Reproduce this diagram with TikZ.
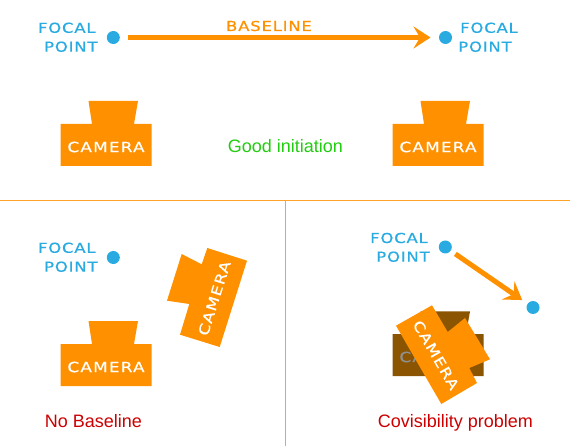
\documentclass[tikz,border=0pt]{standalone}
\usepackage{fontspec}
\usetikzlibrary{arrows.meta}
\setmainfont{Liberation Sans}
\newfontfamily\pixfont[FakeStretch=1.2,LetterSpace=6,FakeBold=0.6]{DejaVu Sans}
\newfontfamily\camfont[FakeStretch=1.2,LetterSpace=9,FakeBold=0.6]{DejaVu Sans}
\definecolor{camorange}{HTML}{FF9100}
\definecolor{dotblue}{HTML}{29ABE2}
\definecolor{goodgreen}{HTML}{22CC11}
\definecolor{badred}{HTML}{CC0000}
\definecolor{shadowbrown}{HTML}{8B5400}
\definecolor{shadowtext}{HTML}{909090}
\tikzset{
  camshape/.style={fill=camorange,draw=none},
  shadowshape/.style={fill=shadowbrown,draw=none},
  fdot/.style={circle,fill=dotblue,draw=none,minimum size=13pt,inner sep=0pt},
  pixlabel/.style={text=dotblue,inner sep=0pt,font=\pixfont\fontsize{13.7pt}{14pt}\selectfont},
  baselabel/.style={text=camorange,inner sep=0pt,font=\pixfont\fontsize{13.7pt}{14pt}\selectfont},
  camlabel/.style={text=white,inner sep=0pt,font=\camfont\fontsize{14pt}{14pt}\selectfont},
  caption/.style={inner sep=0pt,font=\fontsize{18pt}{20pt}\selectfont},
  bigarrow/.style={draw=camorange,line width=5pt,-{Stealth[length=17pt,width=22pt,inset=6.5pt]}},
  divider/.style={draw=camorange!85,line width=0.8pt},
}
\begin{document}
\begin{tikzpicture}[x=1pt,y=-1pt]
\useasboundingbox (0,0) rectangle (570,446);
% dividers
\coordinate (hl) at (0,200.5);
\coordinate (hr) at (570,200.5);
\coordinate (vt) at (285.5,200.5);
\coordinate (vb) at (285.5,446);
\draw[divider] (hl) -- (hr);
\draw[divider] (vt) -- (vb);
% top panel
\node[fdot] (d1) at (113.3,37.5) {};
\node[fdot] (d2) at (445.5,37.5) {};
\node[pixlabel] (f1a) at (66.8,27.8) {FOCAL};
\node[pixlabel] (f1b) at (70.8,46.7) {POINT};
\node[pixlabel] (f2a) at (489,27.8) {FOCAL};
\node[pixlabel] (f2b) at (485,46.7) {POINT};
\node[baselabel] (bl) at (269,26) {BASELINE};
\draw[bigarrow,shorten <=7.7pt,shorten >=8.3pt] (d1) -- (d2);
% camera 1
\fill[camshape] (60.5,124) -- (92,124) -- (88.5,101) -- (138,101) -- (134,124) -- (151.5,124) -- (151.5,166) -- (60.5,166) -- cycle;
\node[camlabel] (c1) at (106,147) {CAMERA};
% camera 2
\fill[camshape] (392.5,124) -- (424,124) -- (420.5,101) -- (470,101) -- (466,124) -- (483.5,124) -- (483.5,166) -- (392.5,166) -- cycle;
\node[camlabel] (c2) at (438,147) {CAMERA};
\node[caption,text=goodgreen] (good) at (285.5,146.5) {Good initiation};
% lower left
\node[fdot] (d3) at (113.3,257.5) {};
\node[pixlabel] (f3a) at (66.8,247.8) {FOCAL};
\node[pixlabel] (f3b) at (70.8,266.7) {POINT};
\fill[camshape] (60.5,344) -- (92,344) -- (88.5,321) -- (138,321) -- (134,344) -- (151.5,344) -- (151.5,386) -- (60.5,386) -- cycle;
\node[camlabel] (c3) at (106,367) {CAMERA};
\fill[camshape] (207.3,248) -- (247,260.7) -- (219.7,347) -- (180,334.7) -- (189.3,304) -- (167,300.7) -- (181.7,254) -- (201.7,264.3) -- cycle;
\node[camlabel,rotate=72.5] (c4) at (214.3,298.3) {CAMERA};
\node[caption,text=badred] (nob) at (93.5,421.5) {No Baseline};
% lower right
\node[fdot] (d4) at (445.3,247) {};
\node[fdot] (d5) at (533,307.5) {};
\node[pixlabel] (f4a) at (399,238) {FOCAL};
\node[pixlabel] (f4b) at (403,256.7) {POINT};
\draw[bigarrow,shorten <=5.5pt,shorten >=6.4pt] (d4) -- (d5);
\fill[shadowshape] (392.5,334) -- (424,334) -- (420.5,311.3) -- (470,311.3) -- (466,334) -- (483.5,334) -- (483.5,376) -- (392.5,376) -- cycle;
\node[camlabel,text=shadowtext] (c5) at (438,357) {CAMERA};
\fill[camshape] (432,305.3) -- (447.7,332) -- (465,318) -- (490,359.3) -- (469.3,368) -- (477,383) -- (441.3,404) -- (396,325.7) -- cycle;
\node[camlabel,rotate=-60] (c6) at (436,355) {CAMERA};
\node[caption,text=badred] (cov) at (455.5,423) {Covisibility problem};
\end{tikzpicture}
\end{document}
